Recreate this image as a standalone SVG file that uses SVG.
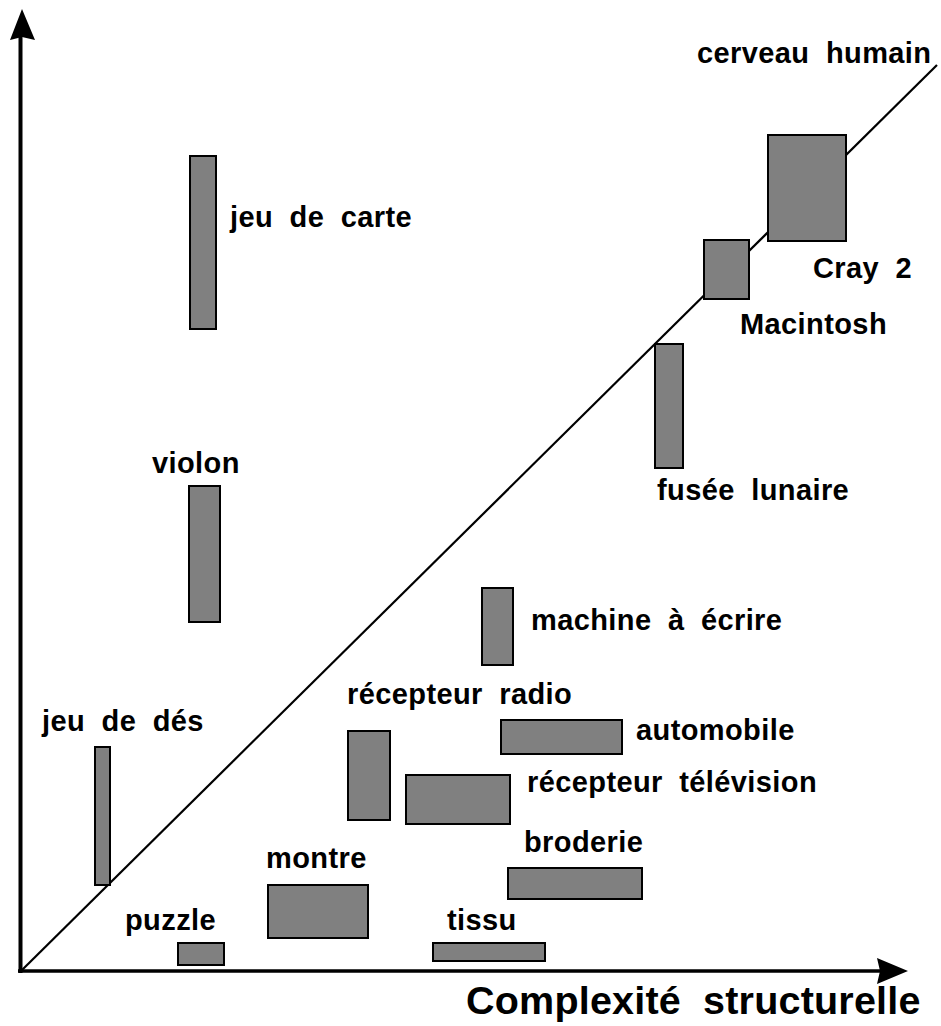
<svg xmlns="http://www.w3.org/2000/svg" width="941" height="1026" viewBox="0 0 941 1026">
<style>
.box{fill:#808080;stroke:#000;stroke-width:2}
.lbl{font-family:"Liberation Sans",Arial,sans-serif;font-weight:bold;font-size:29px;fill:#000;word-spacing:8px;letter-spacing:0.4px}
.title{font-family:"Liberation Sans",Arial,sans-serif;font-weight:bold;font-size:39.5px;fill:#000;word-spacing:11px;letter-spacing:0.2px}
.axis{stroke:#000;fill:none}
</style>
<rect width="941" height="1026" fill="#fff"/>
<g id="axes">
<line class="axis" x1="20.5" y1="973" x2="20.5" y2="36" stroke-width="4"/>
<polygon points="22,9 35,40 22,37 10,40" fill="#000"/>
<line class="axis" x1="18" y1="971" x2="880" y2="971" stroke-width="3.5"/>
<polygon points="908,971 877,958 880,971 877,984" fill="#000"/>
<text class="title" x="466" y="1014">Complexité structurelle</text>
</g>
<g id="connectors">
<line class="axis" x1="22" y1="970" x2="937" y2="65" stroke-width="2.2"/>
</g>
<g id="n-cerveau"><text class="lbl" x="697" y="63">cerveau humain</text></g>
<g id="n-cray"><rect class="box" x="768" y="135" width="78" height="106"/><text class="lbl" x="813" y="278">Cray 2</text></g>
<g id="n-mac"><rect class="box" x="704" y="240" width="45" height="59"/><text class="lbl" x="740" y="334">Macintosh</text></g>
<g id="n-carte"><rect class="box" x="190" y="156" width="26" height="173"/><text class="lbl" x="230" y="227">jeu de carte</text></g>
<g id="n-fusee"><rect class="box" x="655" y="344" width="28" height="124"/><text class="lbl" x="657" y="500">fusée lunaire</text></g>
<g id="n-violon"><rect class="box" x="189" y="486" width="31" height="136"/><text class="lbl" x="152" y="473">violon</text></g>
<g id="n-machine"><rect class="box" x="482" y="588" width="31" height="77"/><text class="lbl" x="531" y="630">machine à écrire</text></g>
<g id="n-radio"><rect class="box" x="348" y="731" width="42" height="89"/><text class="lbl" x="347" y="704">récepteur radio</text></g>
<g id="n-des"><rect class="box" x="95" y="747" width="15" height="138"/><text class="lbl" x="42" y="731">jeu de dés</text></g>
<g id="n-auto"><rect class="box" x="501" y="720" width="121" height="34"/><text class="lbl" x="636" y="740">automobile</text></g>
<g id="n-tele"><rect class="box" x="406" y="775" width="104" height="49"/><text class="lbl" x="527" y="792">récepteur télévision</text></g>
<g id="n-broderie"><rect class="box" x="508" y="868" width="134" height="31"/><text class="lbl" x="524" y="852">broderie</text></g>
<g id="n-montre"><rect class="box" x="268" y="885" width="100" height="53"/><text class="lbl" x="266" y="868">montre</text></g>
<g id="n-puzzle"><rect class="box" x="178" y="943" width="46" height="22"/><text class="lbl" x="125" y="930">puzzle</text></g>
<g id="n-tissu"><rect class="box" x="433" y="943" width="112" height="18"/><text class="lbl" x="447" y="930">tissu</text></g>
</svg>
